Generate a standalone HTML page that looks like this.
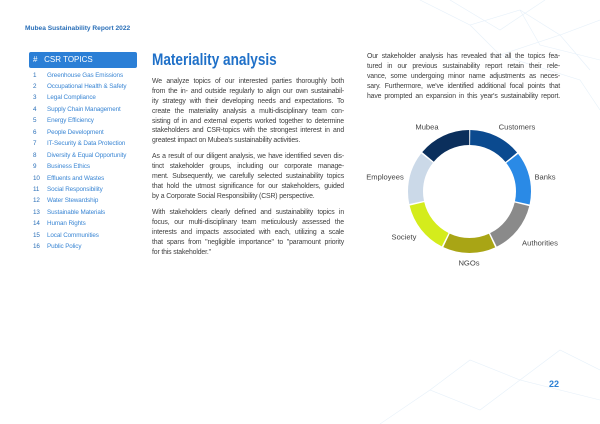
<!DOCTYPE html>
<html><head><meta charset="utf-8"><style>
*{margin:0;padding:0;box-sizing:border-box}
body{width:600px;height:424px;background:#fff;position:relative;overflow:hidden;font-family:"Liberation Sans",sans-serif}
.a{position:absolute;white-space:nowrap}
.rt{position:absolute;font-size:6.9px;color:#404040;line-height:9.9px;letter-spacing:-0.15px}
.rt div{text-align:justify;text-align-last:justify;white-space:nowrap;height:9.9px;overflow:visible}
.li{position:absolute;left:33px;font-size:6.3px;color:#3a86d4;letter-spacing:-0.1px}
.li b{display:inline-block;width:14px;color:#2a6fb8;font-weight:normal}
.lb{position:absolute;font-size:7.6px;color:#444;transform:translate(-50%,-50%)}
</style></head><body>
<svg class="a" style="left:0;top:0" width="600" height="424">
<g stroke="#dbe9f6" stroke-width="0.6" fill="none" opacity="0.7">
<path d="M420 0 L470 25 L520 10 L560 35 L600 20 M470 25 L500 55 L560 35 L590 70 M520 10 L540 45 L600 60 M500 55 L580 80 L600 110 M450 0 L500 30 L545 0"/>
<path d="M380 424 L430 390 L480 410 L520 380 L600 400 M430 390 L470 360 L520 380 L560 350 L600 370"/>
</g>
<g fill="none" stroke-width="15" transform="rotate(-90 469.5 191.5)">
<circle cx="469.5" cy="191.5" r="54" stroke="#0b4a8f" stroke-dasharray="47 500" stroke-dashoffset="-0.7"/>
<circle cx="469.5" cy="191.5" r="54" stroke="#2a8ae6" stroke-dasharray="47 500" stroke-dashoffset="-49.2"/>
<circle cx="469.5" cy="191.5" r="54" stroke="#8a8a8a" stroke-dasharray="47 500" stroke-dashoffset="-97.7"/>
<circle cx="469.5" cy="191.5" r="54" stroke="#a9a515" stroke-dasharray="47 500" stroke-dashoffset="-146.2"/>
<circle cx="469.5" cy="191.5" r="54" stroke="#d4ec1c" stroke-dasharray="47 500" stroke-dashoffset="-194.7"/>
<circle cx="469.5" cy="191.5" r="54" stroke="#cbd9e8" stroke-dasharray="47 500" stroke-dashoffset="-243.2"/>
<circle cx="469.5" cy="191.5" r="54" stroke="#0b2f5c" stroke-dasharray="47 500" stroke-dashoffset="-291.7"/>
</g>
</svg>
<div class="a" style="left:25px;top:25px;font-size:6.6px;font-weight:bold;color:#2a6fb8">Mubea Sustainability Report 2022</div>
<div class="a" style="left:29px;top:52px;width:108px;height:16px;background:#2b7fd6;border-radius:2px;color:#fff;font-size:8px;line-height:16px;padding-left:4px"># &nbsp;&nbsp;CSR TOPICS</div>
<div class="li" style="top:71.5px"><b>1</b>Greenhouse Gas Emissions</div>
<div class="li" style="top:83px"><b>2</b>Occupational Health &amp; Safety</div>
<div class="li" style="top:94.4px"><b>3</b>Legal Compliance</div>
<div class="li" style="top:105.8px"><b>4</b>Supply Chain Management</div>
<div class="li" style="top:117.3px"><b>5</b>Energy Efficiency</div>
<div class="li" style="top:128.7px"><b>6</b>People Development</div>
<div class="li" style="top:140.2px"><b>7</b>IT-Security &amp; Data Protection</div>
<div class="li" style="top:151.6px"><b>8</b>Diversity &amp; Equal Opportunity</div>
<div class="li" style="top:163px"><b>9</b>Business Ethics</div>
<div class="li" style="top:174.5px"><b>10</b>Effluents and Wastes</div>
<div class="li" style="top:186px"><b>11</b>Social Responsibility</div>
<div class="li" style="top:197.4px"><b>12</b>Water Stewardship</div>
<div class="li" style="top:208.8px"><b>13</b>Sustainable Materials</div>
<div class="li" style="top:220.3px"><b>14</b>Human Rights</div>
<div class="li" style="top:231.7px"><b>15</b>Local Communities</div>
<div class="li" style="top:243.2px"><b>16</b>Public Policy</div>
<div class="a" style="left:152px;top:50px;font-size:17px;font-weight:bold;color:#1f70c8;transform:scaleX(0.8);transform-origin:left top">Materiality analysis</div>
<div class="rt" style="left:152px;top:77px;width:192px">
<div>We analyze topics of our interested parties thoroughly both</div>
<div>from the in- and outside regularly to align our own sustainabil-</div>
<div>ity strategy with their developing needs and expectations. To</div>
<div>create the materiality analysis a multi-disciplinary team con-</div>
<div>sisting of in and external experts worked together to determine</div>
<div>stakeholders and CSR-topics with the strongest interest in and</div>
<div style="text-align-last:left">greatest impact on Mubea's sustainability activities.</div>
</div>
<div class="rt" style="left:152px;top:152px;width:192px">
<div>As a result of our diligent analysis, we have identified seven dis-</div>
<div>tinct stakeholder groups, including our corporate manage-</div>
<div>ment. Subsequently, we carefully selected sustainability topics</div>
<div>that hold the utmost significance for our stakeholders, guided</div>
<div style="text-align-last:left">by a Corporate Social Responsibility (CSR) perspective.</div>
</div>
<div class="rt" style="left:152px;top:208px;width:192px">
<div>With stakeholders clearly defined and sustainability topics in</div>
<div>focus, our multi-disciplinary team meticulously assessed the</div>
<div>interests and impacts associated with each, utilizing a scale</div>
<div>that spans from "negligible importance" to "paramount priority</div>
<div style="text-align-last:left">for this stakeholder."</div>
</div>
<div class="rt" style="left:367px;top:52px;width:193px">
<div>Our stakeholder analysis has revealed that all the topics fea-</div>
<div>tured in our previous sustainability report retain their rele-</div>
<div>vance, some undergoing minor name adjustments as neces-</div>
<div>sary. Furthermore, we've identified additional focal points that</div>
<div>have prompted an expansion in this year's sustainability report.</div>
</div>
<div class="lb" style="left:427px;top:127px">Mubea</div>
<div class="lb" style="left:517px;top:127px">Customers</div>
<div class="lb" style="left:385px;top:177px">Employees</div>
<div class="lb" style="left:545px;top:177px">Banks</div>
<div class="lb" style="left:404px;top:237px">Society</div>
<div class="lb" style="left:540px;top:243px">Authorities</div>
<div class="lb" style="left:469px;top:263px">NGOs</div>
<div class="a" style="left:549px;top:379px;font-size:9px;font-weight:bold;color:#2a7fd4">22</div>
</body></html>
